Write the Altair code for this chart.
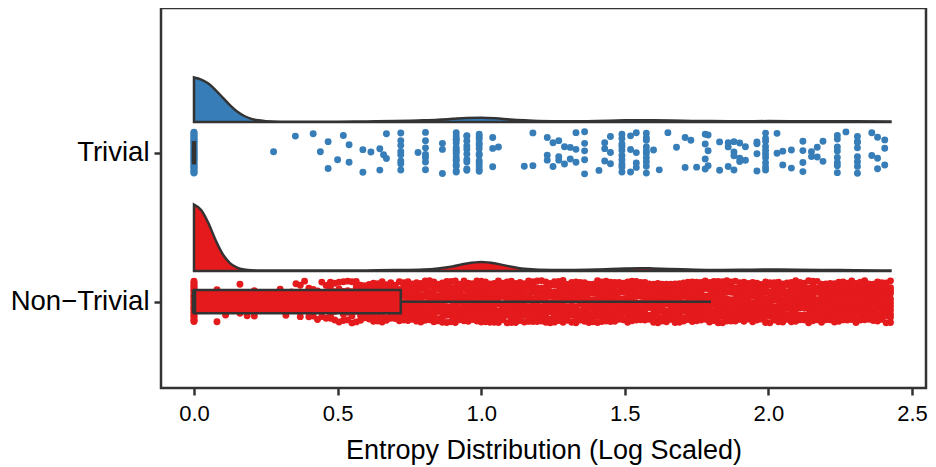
import math
import altair as alt
import pandas as pd

# ---------------- data ----------------
groups = ["Non\u2212Trivial", "Trivial"]          # y position 0, 1
group_colors = ["#E41A1C", "#377EB8"]

# kernel density (arbitrary units) on a common entropy grid
density_x = [0.0, 0.025, 0.05, 0.075, 0.10, 0.125, 0.15, 0.175, 0.20, 0.225, 0.25, 0.30,
             0.40, 0.50, 0.60, 0.70, 0.80, 0.85, 0.90, 0.95, 1.00, 1.05, 1.10, 1.15, 1.20,
             1.30, 1.40, 1.50, 1.55, 1.60, 1.70, 1.80, 1.90, 2.00, 2.10, 2.20, 2.30, 2.425]
trivial_density = [2.97, 2.83, 2.57, 2.13, 1.63, 1.13, 0.70, 0.40, 0.21, 0.11, 0.05, 0.02,
                   0.015, 0.02, 0.035, 0.06, 0.11, 0.15, 0.21, 0.27, 0.29, 0.25, 0.17, 0.11, 0.07,
                   0.05, 0.07, 0.11, 0.12, 0.11, 0.08, 0.06, 0.05, 0.06, 0.05, 0.05, 0.05, 0.03]
nontrivial_density = [4.43, 4.07, 3.20, 2.07, 1.13, 0.53, 0.23, 0.10, 0.05, 0.04, 0.035, 0.03,
                      0.03, 0.03, 0.04, 0.06, 0.10, 0.17, 0.30, 0.50, 0.60, 0.50, 0.30, 0.15, 0.09,
                      0.07, 0.10, 0.17, 0.19, 0.17, 0.11, 0.07, 0.08, 0.10, 0.09, 0.07, 0.05, 0.03]

# box-plot statistics  [Non-Trivial, Trivial]
box_q1 = [0.0, 0.0]
box_median = [0.0, 0.0]
box_q3 = [0.72, 0.0]
whisker_hi = [1.80, 0.0]

# observed entropy values: (value, number of observations)
trivial_obs = [(0.0, 40), (0.277, 1), (0.353, 1), (0.415, 1), (0.44, 1), (0.467, 2), (0.50, 1),
               (0.52, 1), (0.54, 2), (0.588, 2), (0.616, 1), (0.647, 2), (0.66, 1), (0.67, 2),
               (0.72, 8), (0.78, 1), (0.806, 7), (0.865, 3), (0.913, 16), (0.95, 10), (0.993, 13),
               (1.04, 3), (1.06, 1), (1.15, 1), (1.18, 2), (1.23, 3), (1.25, 2), (1.27, 3),
               (1.29, 2), (1.31, 2), (1.33, 3), (1.36, 5), (1.41, 1), (1.43, 3), (1.45, 3),
               (1.49, 10), (1.52, 3), (1.54, 4), (1.575, 10), (1.60, 1), (1.62, 1), (1.65, 1),
               (1.68, 1), (1.71, 2), (1.73, 1), (1.75, 1), (1.78, 4), (1.79, 3), (1.83, 2),
               (1.86, 3), (1.88, 4), (1.90, 3), (1.92, 2), (1.96, 4), (1.99, 10), (2.03, 2),
               (2.05, 2), (2.08, 2), (2.12, 4), (2.15, 2), (2.17, 2), (2.19, 2), (2.24, 8),
               (2.27, 1), (2.31, 8), (2.36, 2), (2.38, 3), (2.405, 3)]

nontrivial_obs = [(0.0, 30), (0.08, 2), (0.09, 1), (0.11, 2), (0.16, 2), (0.175, 1), (0.185, 1),
                  (0.21, 2), (0.23, 1), (0.25, 2), (0.30, 2), (0.32, 1), (0.34, 3), (0.355, 2),
                  (0.37, 3), (0.385, 3), (0.40, 3), (0.415, 4), (0.43, 4), (0.445, 5), (0.46, 5),
                  (0.475, 6), (0.49, 6), (0.505, 6), (0.52, 6), (0.535, 7), (0.55, 7), (0.565, 7),
                  (0.58, 7), (0.595, 8), (0.61, 8), (0.625, 8), (0.64, 9), (0.655, 9), (0.67, 9),
                  (0.685, 9), (0.70, 9), (0.715, 9)]
nontrivial_dense_values = [
    0.73, 0.745, 0.76, 0.775, 0.79, 0.805, 0.82, 0.835, 0.85, 0.865, 0.88, 0.895, 0.91, 0.925,
    0.94, 0.955, 0.97, 0.985, 1.00, 1.015, 1.03, 1.045, 1.06, 1.075, 1.09, 1.105, 1.12, 1.135,
    1.15, 1.165, 1.18, 1.195, 1.21, 1.225, 1.24, 1.255, 1.27, 1.285, 1.30, 1.315, 1.33, 1.345,
    1.36, 1.375, 1.39, 1.405, 1.42, 1.435, 1.45, 1.465, 1.48, 1.495, 1.51, 1.525, 1.54, 1.555,
    1.57, 1.585, 1.60, 1.615, 1.63, 1.645, 1.66, 1.675, 1.69, 1.705, 1.72, 1.735, 1.75, 1.765,
    1.78, 1.795, 1.81, 1.825, 1.84, 1.855, 1.87, 1.885, 1.90, 1.915, 1.93, 1.945, 1.96, 1.975,
    1.99, 2.005, 2.02, 2.035, 2.05, 2.065, 2.08, 2.095, 2.11, 2.125, 2.14, 2.155, 2.17, 2.185,
    2.20, 2.215, 2.23, 2.245, 2.26, 2.275, 2.29, 2.305, 2.32, 2.335, 2.35, 2.365, 2.38, 2.395,
    2.41, 2.425]
nontrivial_dense_count = 11

# ---------------- layout constants (style) ----------------
CLOUD_BASE = 0.206      # density baseline above the category line
DENS_SCALE = 0.1007     # density -> category units
JITTER = 0.142          # half band of jittered points
BOX_HALF = 0.078
OUTLINE = "#333333"
FONT = "Liberation Sans"


def hash01(i, k):
    u = math.sin(i * 12.9898 + k * 78.233) * 43758.5453
    return u - math.floor(u)


# density frame
dens_rows = []
for gi, (g, dens) in enumerate([(groups[0], nontrivial_density), (groups[1], trivial_density)]):
    for xv, dv in zip(density_x, dens):
        dens_rows.append({"group": g, "x": xv, "y": gi + CLOUD_BASE + dv * DENS_SCALE,
                          "y0": gi + CLOUD_BASE})
dens_df = pd.DataFrame(dens_rows)

# jittered points
pt_rows = []
idx = 0
obs_nt = nontrivial_obs + [(v, nontrivial_dense_count) for v in nontrivial_dense_values]
for gi, (g, obs) in enumerate([(groups[0], obs_nt), (groups[1], trivial_obs)]):
    for xv, n in obs:
        idx += 1
        for k in range(n):
            u = hash01(idx, k)
            off = -JITTER + (k + u) / n * 2 * JITTER
            pt_rows.append({"group": g, "x": xv, "y": gi + off})
pts_df = pd.DataFrame(pt_rows)

box_df = pd.DataFrame({
    "group": groups,
    "q1": box_q1, "median": box_median, "q3": box_q3, "hi": whisker_hi,
    "yc": [0.0, 1.0],
    "ylo": [0 - BOX_HALF, 1 - BOX_HALF], "yhi": [0 + BOX_HALF, 1 + BOX_HALF],
})

xs = alt.Scale(domain=[-0.1149, 2.5487], nice=False, zero=False)
ys = alt.Scale(domain=[-0.579, 1.971], nice=False, zero=False)
cs = alt.Scale(domain=groups, range=group_colors)

x_axis = alt.Axis(values=[0, 0.5, 1.0, 1.5, 2.0, 2.5], format=".1f", title="Entropy Distribution (Log Scaled)",
                  labelFontSize=22, titleFontSize=27, titleFontWeight="normal", labelColor="black",
                  titleColor="black", labelFont=FONT, titleFont=FONT, domain=False, grid=False,
                  tickColor=OUTLINE, tickWidth=2.5, tickSize=7, labelPadding=8, titlePadding=13)
y_axis = alt.Axis(values=[0, 1], labelExpr="datum.value == 1 ? 'Trivial' : 'Non\u2212Trivial'",
                  title=None, labelFontSize=27.5, labelColor="black", labelFont=FONT, domain=False,
                  grid=False, tickColor=OUTLINE, tickWidth=2.5, tickSize=7, labelPadding=5)

area = alt.Chart(dens_df).mark_area(stroke=OUTLINE, strokeWidth=2.5, opacity=1,
                                   interpolate="monotone").encode(
    x=alt.X("x:Q", scale=xs, axis=x_axis),
    y=alt.Y("y:Q", scale=ys, axis=y_axis),
    y2="y0:Q",
    color=alt.Color("group:N", scale=cs, legend=None),
    detail="group:N",
)

points = alt.Chart(pts_df).mark_circle(size=48, opacity=1).encode(
    x=alt.X("x:Q", scale=xs),
    y=alt.Y("y:Q", scale=ys),
    color=alt.Color("group:N", scale=cs, legend=None),
)

box = alt.Chart(box_df).mark_rect(stroke=OUTLINE, strokeWidth=2.5).encode(
    x=alt.X("q1:Q", scale=xs), x2="q3:Q",
    y=alt.Y("ylo:Q", scale=ys), y2="yhi:Q",
    color=alt.Color("group:N", scale=cs, legend=None),
)

whisker = alt.Chart(box_df).mark_rule(color=OUTLINE, strokeWidth=2.5).encode(
    x=alt.X("q3:Q", scale=xs), x2="hi:Q",
    y=alt.Y("yc:Q", scale=ys),
)

median = alt.Chart(box_df).mark_rule(color=OUTLINE, strokeWidth=4.5).encode(
    x=alt.X("median:Q", scale=xs),
    y=alt.Y("ylo:Q", scale=ys), y2="yhi:Q",
)

chart = alt.layer(area, points, whisker, box, median).properties(
    width=765, height=380,
    autosize=alt.AutoSizeParams(type="none"),
    padding={"left": 153, "top": 0, "right": 2, "bottom": 79},
).configure(
    background="white",
    view=alt.ViewConfig(stroke=OUTLINE, strokeWidth=2.5),
)

chart.save("out.html", embed_options={"renderer": "svg", "actions": False})
